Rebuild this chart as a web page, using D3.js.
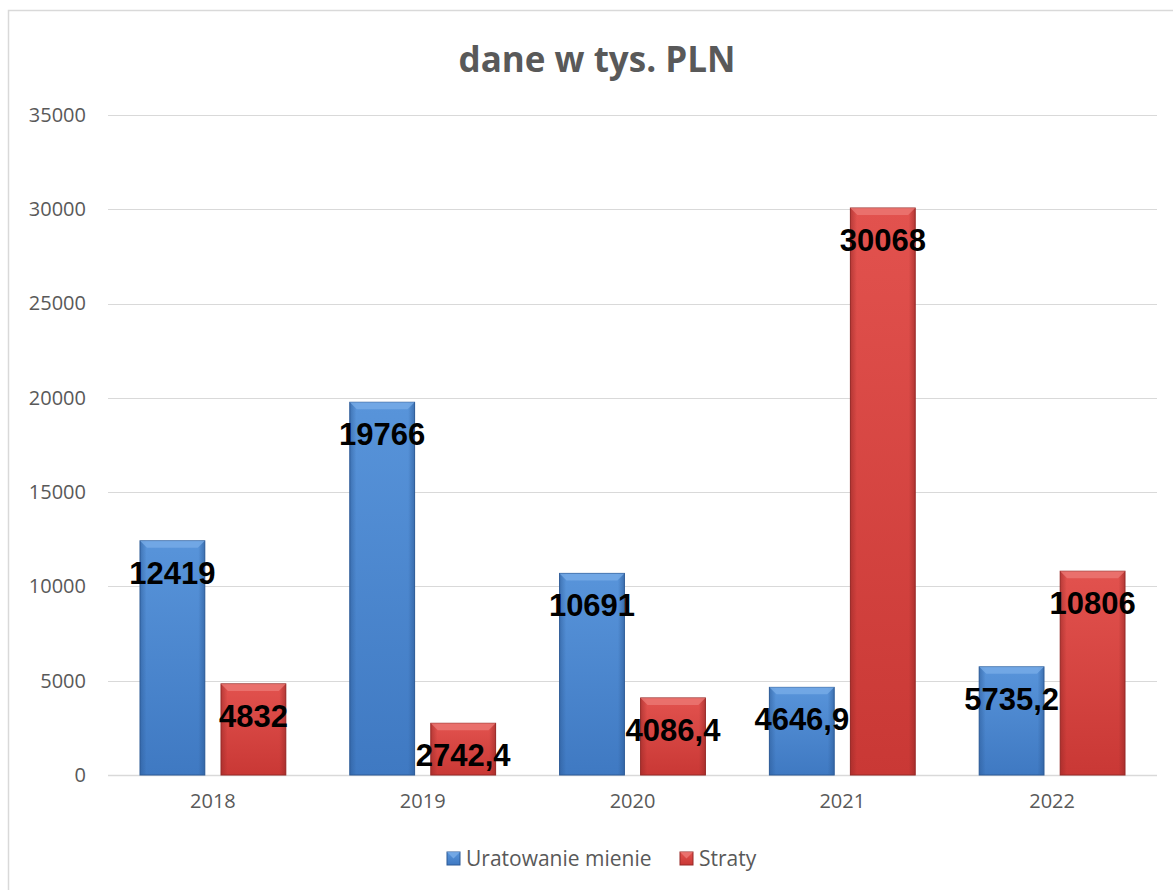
<!DOCTYPE html>
<html>
<head>
<meta charset="utf-8">
<script src="https://cdn.jsdelivr.net/npm/d3@7"></script>
<style>
  body { margin: 0; background: #fff; }
  svg { display: block; }
</style>
</head>
<body>
<div id="chart"></div>
<script>
var years = ['2018', '2019', '2020', '2021', '2022'];
var seriesNames = ['Uratowanie mienie', 'Straty'];
var saved = [12419, 19766, 10691, 4646.9, 5735.2];
var losses = [4832, 2742.4, 4086.4, 30068, 10806];
var yTicks = [0, 5000, 10000, 15000, 20000, 25000, 30000, 35000];

var width = 1173, height = 890;
var plot = { left: 108, right: 1157, top: 115, bottom: 775 };

var svg = d3.select('#chart').append('svg')
    .attr('width', width)
    .attr('height', height);

var defs = svg.append('defs');
var palette = [
    { id: 'blue', light: '#5894da', mid: '#3f79c2', dark: '#2c5a96', top: '#7aaee8' },
    { id: 'red', light: '#e2524e', mid: '#c93835', dark: '#962826', top: '#ec7b77' }
];
palette.forEach(function (p) {
    var g = defs.append('linearGradient').attr('id', 'grad-' + p.id)
        .attr('x1', 0).attr('y1', 0).attr('x2', 0).attr('y2', 1);
    g.append('stop').attr('offset', '0%').attr('stop-color', p.light);
    g.append('stop').attr('offset', '100%').attr('stop-color', p.mid);
    var s = defs.append('linearGradient').attr('id', 'side-' + p.id)
        .attr('x1', 0).attr('y1', 0).attr('x2', 1).attr('y2', 0);
    s.append('stop').attr('offset', '0%').attr('stop-color', p.dark).attr('stop-opacity', 0.55);
    s.append('stop').attr('offset', '10%').attr('stop-color', p.dark).attr('stop-opacity', 0);
    s.append('stop').attr('offset', '90%').attr('stop-color', p.dark).attr('stop-opacity', 0);
    s.append('stop').attr('offset', '100%').attr('stop-color', p.dark).attr('stop-opacity', 0.6);
});

// chart frame
svg.append('rect')
    .attr('x', 8.5).attr('y', 10.5)
    .attr('width', 1200).attr('height', 900)
    .attr('fill', 'none')
    .attr('stroke', '#d9d9d9')
    .attr('stroke-width', 1.5);

svg.append('text')
    .attr('x', 597).attr('y', 72)
    .attr('text-anchor', 'middle')
    .attr('font-family', 'Open Sans, sans-serif')
    .attr('font-weight', 'bold')
    .attr('font-size', 35)
    .attr('fill', '#595959')
    .text('dane w tys. PLN');

var y = d3.scaleLinear().domain([0, 35000]).range([plot.bottom, plot.top]);
var x0 = d3.scaleBand().domain(years).range([plot.left, plot.right])
    .paddingInner(0.305).paddingOuter(0.1525);
var x1 = d3.scaleBand().domain(seriesNames).range([0, x0.bandwidth()]).paddingInner(0.2);

// gridlines
svg.append('g').selectAll('line')
    .data(yTicks)
    .enter()
    .append('line')
    .attr('x1', plot.left).attr('x2', plot.right)
    .attr('y1', function (d) { return Math.round(y(d)) + 0.5; })
    .attr('y2', function (d) { return Math.round(y(d)) + 0.5; })
    .attr('stroke', '#d9d9d9')
    .attr('stroke-width', function (d) { return d === 0 ? 1.5 : 1; });

var yAxis = d3.axisLeft(y).tickValues(yTicks).tickFormat(d3.format('d')).tickSize(0).tickPadding(0);
var gy = svg.append('g').attr('transform', 'translate(86,0)').call(yAxis);
gy.select('.domain').remove();
gy.selectAll('text')
    .attr('font-family', 'Open Sans, sans-serif')
    .attr('font-size', 20)
    .attr('fill', '#595959');

var xAxis = d3.axisBottom(x0).tickSize(0).tickPadding(19);
var gx = svg.append('g').attr('transform', 'translate(0,' + plot.bottom + ')').call(xAxis);
gx.select('.domain').remove();
gx.selectAll('text')
    .attr('font-family', 'Open Sans, sans-serif')
    .attr('font-size', 20)
    .attr('fill', '#595959');

var rows = years.map(function (yr, i) {
    return { year: yr, values: [saved[i], losses[i]] };
});

var fmt = function (v) { return String(v).replace('.', ','); };

var groups = svg.append('g').selectAll('g')
    .data(rows)
    .enter()
    .append('g')
    .attr('transform', function (d) { return 'translate(' + x0(d.year) + ',0)'; });

var bars = groups.selectAll('g')
    .data(function (d) {
        return d.values.map(function (v, k) { return { key: seriesNames[k], k: k, value: v }; });
    })
    .enter()
    .append('g');

bars.append('rect')
    .attr('x', function (d) { return x1(d.key); })
    .attr('y', function (d) { return y(d.value); })
    .attr('width', x1.bandwidth())
    .attr('height', function (d) { return plot.bottom - y(d.value); })
    .attr('fill', function (d) { return 'url(#grad-' + palette[d.k].id + ')'; })
    .attr('stroke', function (d) { return palette[d.k].dark; })
    .attr('stroke-width', 1);

bars.append('rect')
    .attr('x', function (d) { return x1(d.key); })
    .attr('y', function (d) { return y(d.value); })
    .attr('width', x1.bandwidth())
    .attr('height', function (d) { return plot.bottom - y(d.value); })
    .attr('fill', function (d) { return 'url(#side-' + palette[d.k].id + ')'; });

// top bevel
bars.append('path')
    .attr('d', function (d) {
        var bx = x1(d.key), by = y(d.value), w = x1.bandwidth(), b = 7;
        return 'M' + bx + ',' + by + 'L' + (bx + w) + ',' + by +
            'L' + (bx + w - b) + ',' + (by + b) + 'L' + (bx + b) + ',' + (by + b) + 'Z';
    })
    .attr('fill', function (d) { return palette[d.k].top; })
    .attr('opacity', 0.75);

bars.append('text')
    .attr('x', function (d) { return x1(d.key) + x1.bandwidth() / 2; })
    .attr('y', function (d) { return y(d.value) + 43; })
    .attr('text-anchor', 'middle')
    .attr('font-family', 'Liberation Sans, Arial, sans-serif')
    .attr('font-weight', 'bold')
    .attr('font-size', 31)
    .attr('fill', '#000')
    .text(function (d) { return fmt(d.value); });

// legend
var legendItems = [{ name: seriesNames[0], x: 447, k: 0 }, { name: seriesNames[1], x: 680, k: 1 }];
var legend = svg.append('g').selectAll('g')
    .data(legendItems)
    .enter()
    .append('g')
    .attr('transform', function (d) { return 'translate(' + d.x + ',852)'; });
legend.append('rect')
    .attr('width', 13).attr('height', 13)
    .attr('fill', function (d) { return 'url(#grad-' + palette[d.k].id + ')'; })
    .attr('stroke', function (d) { return palette[d.k].dark; });
legend.append('path')
    .attr('d', 'M0,0L13,0L6.5,6.5Z')
    .attr('fill', function (d) { return palette[d.k].top; })
    .attr('opacity', 0.8);
legend.append('text')
    .attr('x', 19).attr('y', 14)
    .attr('font-family', 'Open Sans, sans-serif')
    .attr('font-size', 21)
    .attr('fill', '#595959')
    .text(function (d) { return d.name; });
</script>
</body>
</html>
